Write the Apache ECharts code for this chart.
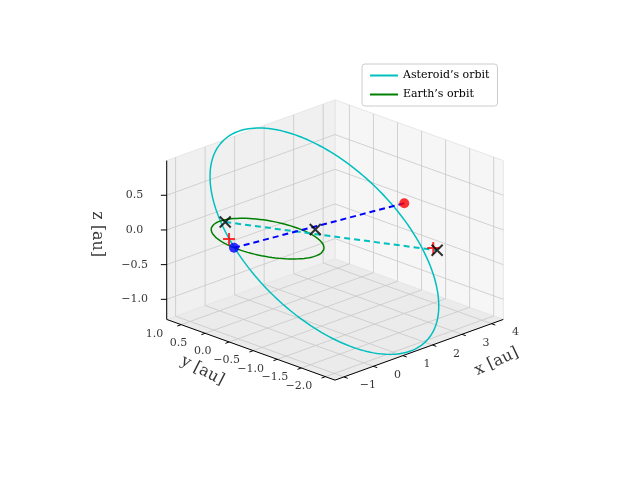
<!DOCTYPE html>
<html><head><meta charset="utf-8">
<script src="https://cdn.jsdelivr.net/npm/echarts@6/dist/echarts.min.js"></script>
<style>html,body{margin:0;padding:0;background:#fff}#c{width:640px;height:480px}</style>
</head><body><div id="c"></div>
<script>
// ---- data ----
const xTicks = [-1, 0, 1, 2, 3, 4];
const yTicks = [1.0, 0.5, 0.0, -0.5, -1.0, -1.5, -2.0];
const zTicks = [-1.0, -0.5, 0.0, 0.5];
const xLim = [-1.3, 4.4], yLim = [-2.2, 1.3], zLim = [-1.29, 1.0];
// asteroid orbit elements
const astA = 2.5, astE = 0.59;
const astPeriDir = [-0.95, 0.2, 0.12];
const astMinorDir = [0.65, 0.8, 0.6];
const earthR = 1.0;
const earthPos = [-0.996, 0.087, 0.0];     // blue dot
const astPos = [3.0, -1.0, 0.3];           // red dot
const crossPts = [[-0.1, 0.82, 0.05], [1.24, -0.23, 0.0], [3.3, -1.5, -0.3]];
const plusPts = [[-0.67, 0.39, 0.0], [3.25, -1.45, -0.27]];
const legendNames = ["Asteroid\u2019s orbit", "Earth\u2019s orbit"];

// ---- projection (view elev ~22°, azim -135°) ----
function proj(p) {
  const nx = (p[0]-xLim[0])/(xLim[1]-xLim[0]) - 0.5;
  const ny = (p[1]-yLim[0])/(yLim[1]-yLim[0]) - 0.5;
  const nz = ((p[2]-zLim[0])/(zLim[1]-zLim[0]) - 0.5) * 0.72;
  const S = 238;
  return [335 + S*0.7071*(nx-ny), 240 - S*(0.255*(nx+ny) + 0.927*nz)];
}
const P = a => a.map(proj);
function seg(lines){ const out=[]; lines.forEach(l=>{ l.forEach(p=>out.push(proj(p))); out.push([null,null]); }); return out; }

// orbits
function unit(v){const n=Math.hypot(...v);return v.map(c=>c/n);}
const pd = unit(astPeriDir);
// minor axis direction made orthogonal to the perihelion direction
let md0 = unit(astMinorDir);
const dt = md0[0]*pd[0]+md0[1]*pd[1]+md0[2]*pd[2];
const md = unit(md0.map((c,i)=>c-dt*pd[i]));
const astB = astA*Math.sqrt(1-astE*astE);
const astOrbit=[], earthOrbit=[];
for (let i=0;i<=200;i++){
  const E = i/200*2*Math.PI;
  const c = astA*(Math.cos(E)-astE), s = astB*Math.sin(E);
  astOrbit.push([c*pd[0]+s*md[0], c*pd[1]+s*md[1], c*pd[2]+s*md[2]]);
  earthOrbit.push([earthR*Math.cos(E), earthR*Math.sin(E), 0]);
}

// panes & grids
const [x0,x1]=xLim,[y0,y1]=yLim,[z0,z1]=zLim;
const panes = [
  {pts:[[x0,y0,z0],[x1,y0,z0],[x1,y1,z0],[x0,y1,z0]], c:'#ebebeb'},
  {pts:[[x1,y0,z0],[x1,y1,z0],[x1,y1,z1],[x1,y0,z1]], c:'#f6f6f6'},
  {pts:[[x0,y1,z0],[x1,y1,z0],[x1,y1,z1],[x0,y1,z1]], c:'#f0f0f0'}
];
const gridLines=[];
xTicks.forEach(x=>{gridLines.push([[x,y0,z0],[x,y1,z0],[x,y1,z1]]);});
yTicks.forEach(y=>{gridLines.push([[x0,y,z0],[x1,y,z0],[x1,y,z1]]);});
zTicks.forEach(z=>{gridLines.push([[x0,y1,z],[x1,y1,z],[x1,y0,z]]);});
const axisLines=[[[x0,y0,z0],[x1,y0,z0]],[[x0,y0,z0],[x0,y1,z0]],[[x0,y1,z0],[x0,y1,z1]]];
const tickMarks=[];
xTicks.forEach(x=>tickMarks.push([[x,y0,z0],[x,y0-0.08,z0]]));
yTicks.forEach(y=>tickMarks.push([[x0,y,z0],[x0-0.13,y,z0]]));
zTicks.forEach(z=>tickMarks.push([[x0,y1,z],[x0-0.1,y1+0.06,z]]));
const fmt = (v,d)=> (v<0?'\u2212':'')+Math.abs(v).toFixed(d);
const labels=[];
xTicks.forEach(x=>{const q=proj([x,y0-0.5,z0]);labels.push({value:q,t:fmt(x,0)});});
yTicks.forEach(y=>{const q=proj([x0-0.9,y,z0]);labels.push({value:q,t:fmt(y,1)});});
zTicks.forEach(z=>{const q=proj([x0-0.55,y1+0.33,z]);labels.push({value:q,t:fmt(z,1)});});
const titles=[
  {value:proj([2.3,y0-1.15,z0]), t:'x [au]', r:25},
  {value:proj([x0-1.8,-0.55,z0]), t:'y [au]', r:-27},
  {value:proj([x0-1.05,y1+0.8,-0.1]), t:'z [au]', r:-90}
];
const serif='"DejaVu Serif","Liberation Serif",serif';

const series=[
  {type:'custom', silent:true, z:1, data:panes.map((p,i)=>i),
   renderItem:(params,api)=>{const p=panes[params.dataIndex];
     return {type:'polygon',shape:{points:p.pts.map(q=>api.coord(proj(q)))},style:{fill:p.c,stroke:'#e6e6e6'}};}},
  {type:'line', data:seg(gridLines), symbol:'none', z:2, lineStyle:{color:'#c8c8c8',width:0.8}, silent:true},
  {type:'line', data:seg(axisLines), symbol:'none', z:3, lineStyle:{color:'#000',width:1}, silent:true},
  {type:'line', data:seg(tickMarks), symbol:'none', z:3, lineStyle:{color:'#000',width:1}, silent:true},
  {type:'scatter', data:labels.map(l=>({value:l.value,label:{formatter:l.t}})), symbolSize:0, z:4,
   label:{show:true,position:'inside',fontFamily:serif,fontSize:11,color:'#000'}},
  {type:'scatter', data:titles.map(l=>({value:l.value,label:{formatter:l.t,rotate:l.r}})), symbolSize:0, z:4,
   label:{show:true,position:'inside',fontFamily:serif,fontSize:16,color:'#000'}},
  {name:legendNames[0], type:'line', data:P(astOrbit), symbol:'none', z:5, lineStyle:{color:'#00bfbf',width:1.5}, itemStyle:{color:'#00bfbf'}},
  {name:legendNames[1], type:'line', data:P(earthOrbit), symbol:'none', z:5, lineStyle:{color:'#008000',width:1.5}, itemStyle:{color:'#008000'}},
  {type:'line', data:P([crossPts[0],crossPts[2]]), symbol:'none', z:6, lineStyle:{color:'#00bfbf',width:2,type:[6,4]}},
  {type:'line', data:P([earthPos,astPos]), symbol:'none', z:6, lineStyle:{color:'#0000ff',width:2,type:[6,4]}},
  {type:'scatter', data:P(plusPts), symbol:'path://M0,5L10,5M5,0L5,10', symbolSize:12, z:7, itemStyle:{color:'none',borderColor:'#ff0000',borderWidth:2}},
  {type:'scatter', data:P(crossPts), symbol:'path://M0,0L10,10M10,0L0,10', symbolSize:11, z:8, itemStyle:{color:'none',borderColor:'#000',borderWidth:2}},
  {type:'scatter', data:P([astPos]), symbol:'circle', symbolSize:10, z:8, itemStyle:{color:'#ff0000'}},
  {type:'scatter', data:P([earthPos]), symbol:'circle', symbolSize:10, z:8, itemStyle:{color:'#0000ff'}}
];
const chart=echarts.init(document.getElementById('c'));
chart.setOption({
  animation:false,
  grid:{left:0,right:0,top:0,bottom:0},
  xAxis:{type:'value',min:0,max:640,show:false},
  yAxis:{type:'value',min:0,max:480,inverse:true,show:false},
  legend:{show:true, data:legendNames, orient:'vertical', left:362, top:64,
    icon:'rect', itemWidth:28, itemHeight:2, itemGap:8, padding:[6,8],
    backgroundColor:'rgba(255,255,255,0.8)',borderColor:'#ccc',borderWidth:1,borderRadius:3,
    textStyle:{fontFamily:serif,fontSize:11,color:'#000'}},
  series
});
</script></body></html>
